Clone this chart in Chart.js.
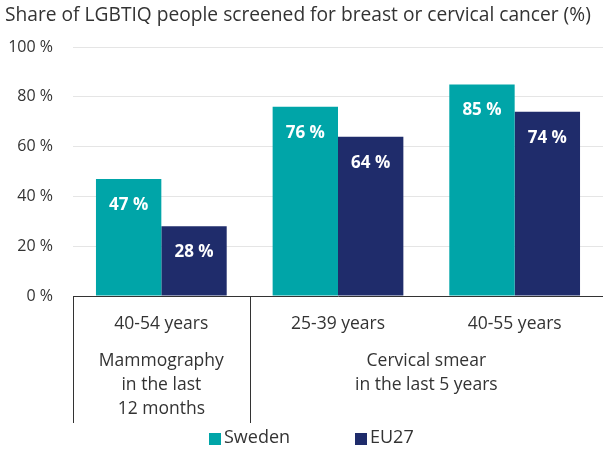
<!DOCTYPE html>
<html>
<head>
<meta charset="utf-8">
<script src="https://cdn.jsdelivr.net/npm/chart.js@4"></script>
<style>
  html, body { margin: 0; padding: 0; background: #fff; }
  #wrap { width: 603px; height: 450px; }
</style>
</head>
<body>
<div id="wrap"><canvas id="chart" width="603" height="450"></canvas></div>
<script>
const categories = ['40-54 years', '25-39 years', '40-55 years'];
const sweden = [47, 76, 85];
const eu27 = [28, 64, 74];
const groups = [
  { lines: ['Mammography', 'in the last', '12 months'], from: 0, to: 0 },
  { lines: ['Cervical smear', 'in the last 5 years'], from: 1, to: 2 }
];
const yTicks = [0, 20, 40, 60, 80, 100];

const textColor = '#333333';
const fontFamily = "'Open Sans', 'Noto Sans', sans-serif";

// labels inside bars, group labels + separators, legend
const extras = {
  id: 'extras',
  afterDatasetsDraw(chart) {
    const ctx = chart.ctx;
    ctx.save();
    ctx.fillStyle = '#fff';
    ctx.font = 'bold 17px ' + fontFamily;
    ctx.textAlign = 'center';
    ctx.textBaseline = 'middle';
    chart.data.datasets.forEach((ds, i) => {
      chart.getDatasetMeta(i).data.forEach((bar, j) => {
        ctx.fillText(ds.data[j] + ' %', bar.x, bar.y + 26);
      });
    });
    ctx.restore();
  },
  afterDraw(chart) {
    const ctx = chart.ctx;
    const x = chart.scales.x;
    const area = chart.chartArea;
    const step = x.getPixelForValue(1) - x.getPixelForValue(0);
    ctx.save();
    ctx.strokeStyle = textColor;
    ctx.lineWidth = 1;
    // separators between the groups
    const edges = [area.left, x.getPixelForValue(0) + step / 2];
    edges.forEach(px => {
      ctx.beginPath();
      ctx.moveTo(Math.round(px) + 0.5, area.bottom);
      ctx.lineTo(Math.round(px) + 0.5, area.bottom + 127);
      ctx.stroke();
    });
    // group labels
    ctx.fillStyle = textColor;
    ctx.font = '17.5px ' + fontFamily;
    ctx.textAlign = 'center';
    ctx.textBaseline = 'middle';
    groups.forEach(g => {
      const left = x.getPixelForValue(g.from) - step / 2;
      const right = Math.min(x.getPixelForValue(g.to) + step / 2, area.right);
      g.lines.forEach((t, k) => ctx.fillText(t, (left + right) / 2, area.bottom + 65 + k * 24));
    });
    // legend
    ctx.font = '18px ' + fontFamily;
    let lx = 209;
    const ly = 438;
    ctx.textAlign = 'left';
    chart.data.datasets.forEach((ds) => {
      ctx.fillStyle = ds.backgroundColor;
      ctx.fillRect(lx, ly - 5, 12, 12);
      ctx.fillStyle = textColor;
      ctx.fillText(ds.label, lx + 15, ly);
      lx += 146;
    });
    ctx.restore();
  }
};

new Chart(document.getElementById('chart'), {
  type: 'bar',
  data: {
    labels: categories,
    datasets: [
      { label: 'Sweden', data: sweden, backgroundColor: '#00a5a8' },
      { label: 'EU27', data: eu27, backgroundColor: '#1f2c6b' }
    ]
  },
  options: {
    responsive: false,
    animation: false,
    layout: { padding: { left: 5, right: 0, top: 0, bottom: 0 } },
    datasets: { bar: { categoryPercentage: 0.74, barPercentage: 1.0 } },
    plugins: {
      legend: { display: false },
      tooltip: { enabled: false },
      title: {
        display: true,
        text: 'Share of LGBTIQ people screened for breast or cervical cancer (%)',
        align: 'start',
        color: textColor,
        font: { family: fontFamily, size: 19.2, weight: 'normal' },
        padding: { top: 4, bottom: 20 }
      }
    },
    scales: {
      x: {
        grid: { display: false, drawTicks: false },
        border: { display: true, color: textColor, width: 1 },
        ticks: { color: textColor, font: { family: fontFamily, size: 17.5 }, padding: 18 },
        afterFit(s) { s.height = 154; }
      },
      y: {
        min: 0,
        max: 100,
        afterBuildTicks(s) { s.ticks = yTicks.map(v => ({ value: v })); },
        grid: { color: '#e5e5e5', drawTicks: false },
        border: { display: false },
        ticks: {
          color: textColor,
          font: { family: fontFamily, size: 16 },
          padding: 20,
          callback: v => v + ' %'
        },
        afterFit(s) { s.width = 68; }
      }
    }
  },
  plugins: [extras]
});
</script>
</body>
</html>
